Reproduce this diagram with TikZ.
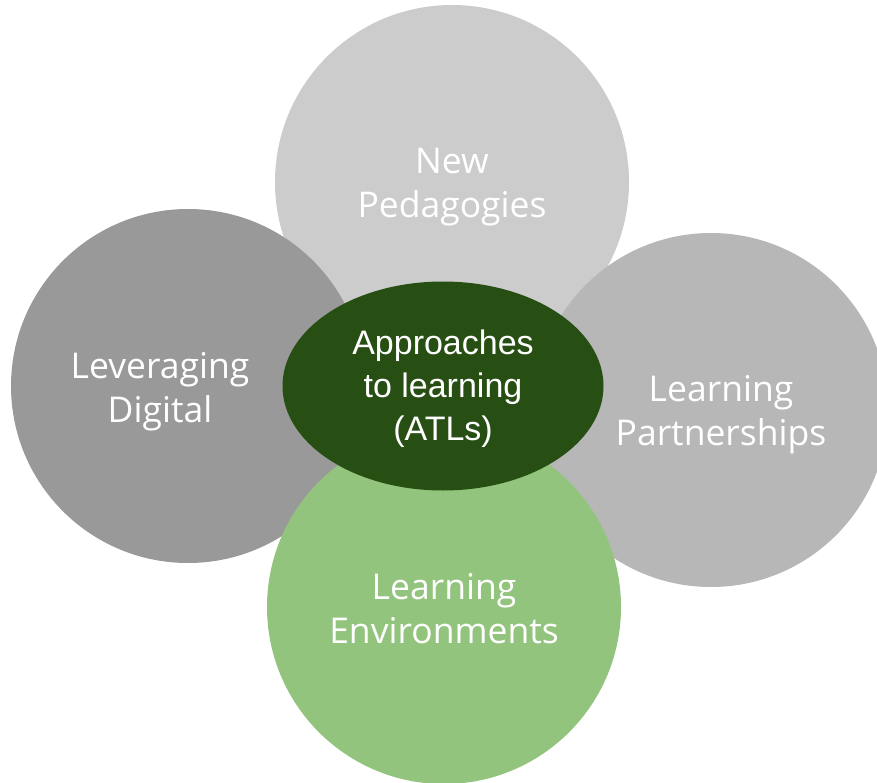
\documentclass[tikz,border=0pt]{standalone}
\usepackage{fontspec}
\setmainfont{Open Sans}
\newfontfamily\arialfont{Liberation Sans}
\usetikzlibrary{shapes.geometric}
\definecolor{cTop}{HTML}{CCCCCC}
\definecolor{cLeft}{HTML}{999999}
\definecolor{cRight}{HTML}{B7B7B7}
\definecolor{cBottom}{HTML}{93C47D}
\definecolor{cCenter}{HTML}{274E13}
\begin{document}
\begin{tikzpicture}[x=1pt,y=1pt,
  blob/.style={circle, draw=none, minimum size=354pt, inner sep=0pt},
  outertext/.style={text=white, align=center, font=\fontsize{35.5}{44}\selectfont},
  centertext/.style={text=white, align=center, font=\arialfont\fontsize{34}{43}\selectfont}]
\useasboundingbox (0,0) rectangle (877,-783);
\clip (0,0) rectangle (877,-783);
\node[blob, fill=cTop] (top) at (452,-182) {};
\node[blob, fill=cLeft] (left) at (188,-386) {};
\node[blob, fill=cRight] (right) at (711,-410) {};
\node[blob, fill=cBottom] (bottom) at (444,-607) {};
\node[ellipse, fill=cCenter, minimum width=321pt, minimum height=209pt, inner sep=0pt] (center) at (443,-386) {};
\node[outertext] (ttop) at (452,-187) {New\\Pedagogies};
\node[outertext] (tleft) at (160,-392) {Leveraging\\Digital};
\node[outertext] (tright) at (721,-415) {Learning\\Partnerships};
\node[outertext] (tbottom) at (444,-609) {Learning\\Environments};
\node[centertext] (tcenter) at (443,-389) {Approaches\\to learning\\(ATLs)};
\end{tikzpicture}
\end{document}
